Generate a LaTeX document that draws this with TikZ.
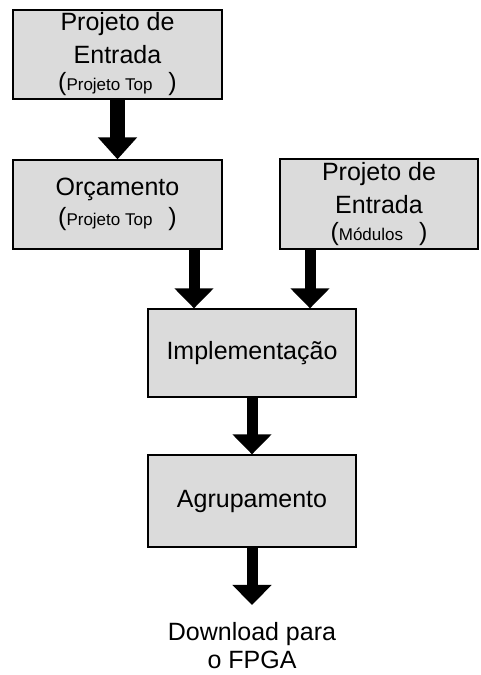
\documentclass[tikz,border=0pt]{standalone}
\usepackage{fontspec}
\setmainfont{Liberation Sans}
\usetikzlibrary{arrows.meta}

\tikzset{
  etapa/.style={draw=black, line width=1.3pt, fill=black!14, minimum width=209pt, minimum height=89pt,
    align=center, inner sep=0pt, font=\fontsize{25}{33}\selectfont},
  seta/.style={line width=11pt, -{Triangle[width=38pt,length=20pt]}},
}
\newcommand{\nota}[1]{({\fontsize{17}{19}\selectfont #1}\hspace{16pt})}

\begin{document}
\begin{tikzpicture}[x=1pt,y=1pt]
    \useasboundingbox (0,0) rectangle (480,675);

    % etapas do fluxo
    \node[etapa] (topo) at (117.5,620.5) {Projeto de\\Entrada\\[-6pt]\nota{Projeto Top}};
    \node[etapa, font=\fontsize{25}{30}\selectfont] (orc) at (117.5,470.5) {Or\c{c}amento\\\nota{Projeto Top}};
    \node[etapa, minimum width=198pt, minimum height=90pt] (mod) at (379,471) {Projeto de\\Entrada\\[-6pt]\nota{M\'odulos}};
    \node[etapa, minimum width=208pt, minimum height=88pt] (impl) at (252,322) {Implementa\c{c}\~ao};
    \node[etapa, minimum width=208pt, minimum height=92pt] (agrup) at (252,174) {Agrupamento};
    \node[align=center, font=\fontsize{25}{28}\selectfont] (fpga) at (252,29) {Download para\\o FPGA};

    % setas
    \coordinate (xe) at (194,0);
    \coordinate (xd) at (310,0);
    \draw[seta, line width=15pt, -{Triangle[width=38pt,length=22pt]}] (topo.south) -- (orc.north);
    \draw[seta] (orc.south -| xe) -- (impl.north -| xe);
    \draw[seta] (mod.south -| xd) -- (impl.north -| xd);
    \draw[seta] (impl.south) -- (agrup.north);
    \draw[seta] (agrup.south) -- (agrup.south |- 70,70);
\end{tikzpicture}
\end{document}
